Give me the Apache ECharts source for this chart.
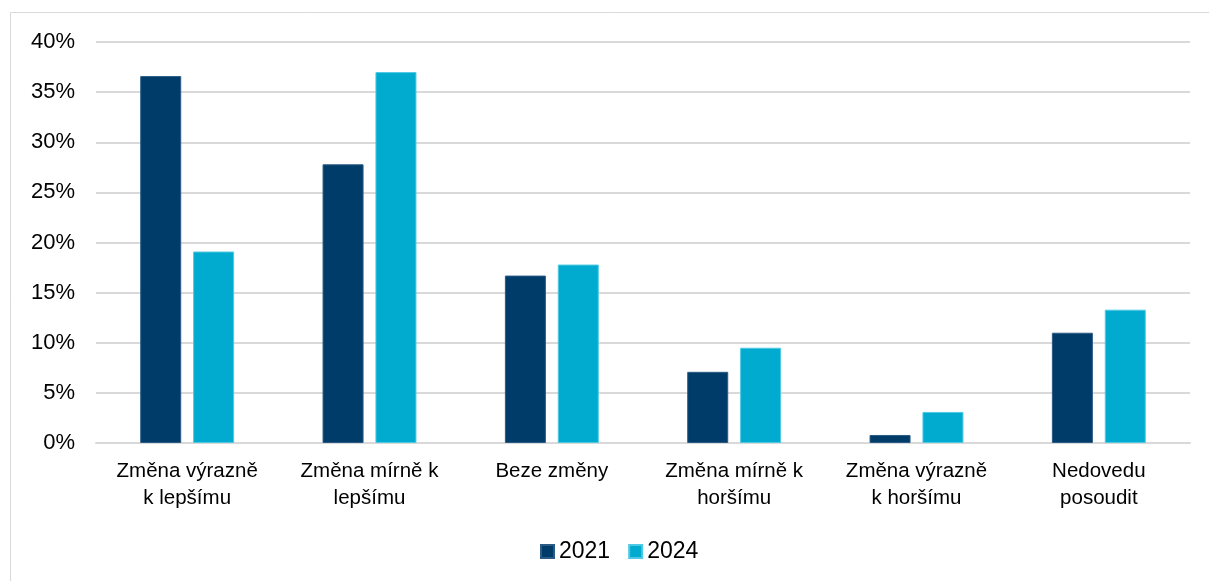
<!DOCTYPE html>
<html>
<head>
<meta charset="utf-8">
<script src="https://cdn.jsdelivr.net/npm/echarts@6/dist/echarts.min.js"></script>
<style>html,body{margin:0;padding:0;background:#fff}#c{width:1209px;height:581px}</style>
</head>
<body>
<div id="c"></div>
<script>
const categories = ["Změna výrazně\nk lepšímu", "Změna mírně k\nlepšímu", "Beze změny", "Změna mírně k\nhoršímu", "Změna výrazně\nk horšímu", "Nedovedu\nposoudit"];
const seriesNames = ["2021", "2024"];
const values2021 = [36.6, 27.8, 16.7, 7.1, 0.8, 11.0];
const values2024 = [19.1, 37.0, 17.8, 9.5, 3.1, 13.3];
const yTicks = [0, 5, 10, 15, 20, 25, 30, 35, 40];

const chart = echarts.init(document.getElementById('c'));
const font = '"Liberation Sans", Arial, sans-serif';
chart.setOption({
  animation: false,
  backgroundColor: '#fff',
  graphic: [{
    type: 'rect', shape: {x: 10.5, y: 12.5, width: 1220, height: 600},
    style: {fill: 'none', stroke: '#d9d9d9', lineWidth: 1}, silent: true
  }],
  grid: {left: 96, right: 19, top: 42, bottom: 138, containLabel: false},
  legend: {
    data: seriesNames, bottom: 18, left: 540,
    itemWidth: 13, itemHeight: 13, itemGap: 18,
    icon: 'rect', padding: 0,
    textStyle: {fontFamily: font, fontSize: 23, color: '#000'}
  },
  xAxis: {
    type: 'category', data: categories,
    axisLine: {lineStyle: {color: '#d9d9d9', width: 2}},
    axisTick: {show: false},
    axisLabel: {fontFamily: font, fontSize: 20.5, color: '#000', lineHeight: 27, margin: 15, interval: 0}
  },
  yAxis: {
    type: 'value', min: yTicks[0], max: yTicks[yTicks.length - 1], interval: 5,
    axisLabel: {formatter: '{value}%', fontFamily: font, fontSize: 22, color: '#000', margin: 21},
    splitLine: {lineStyle: {color: '#d9d9d9', width: 2}},
    axisLine: {show: false}, axisTick: {show: false}
  },
  series: [
    {name: seriesNames[0], type: 'bar', data: values2021, barWidth: 41, barGap: '29%',
     itemStyle: {color: '#003c69', borderColor: '#2a5b85', borderWidth: 1}},
    {name: seriesNames[1], type: 'bar', data: values2024, barWidth: 41,
     itemStyle: {color: '#00abcf', borderColor: '#4fc9e3', borderWidth: 1}}
  ]
});
</script>
</body>
</html>
